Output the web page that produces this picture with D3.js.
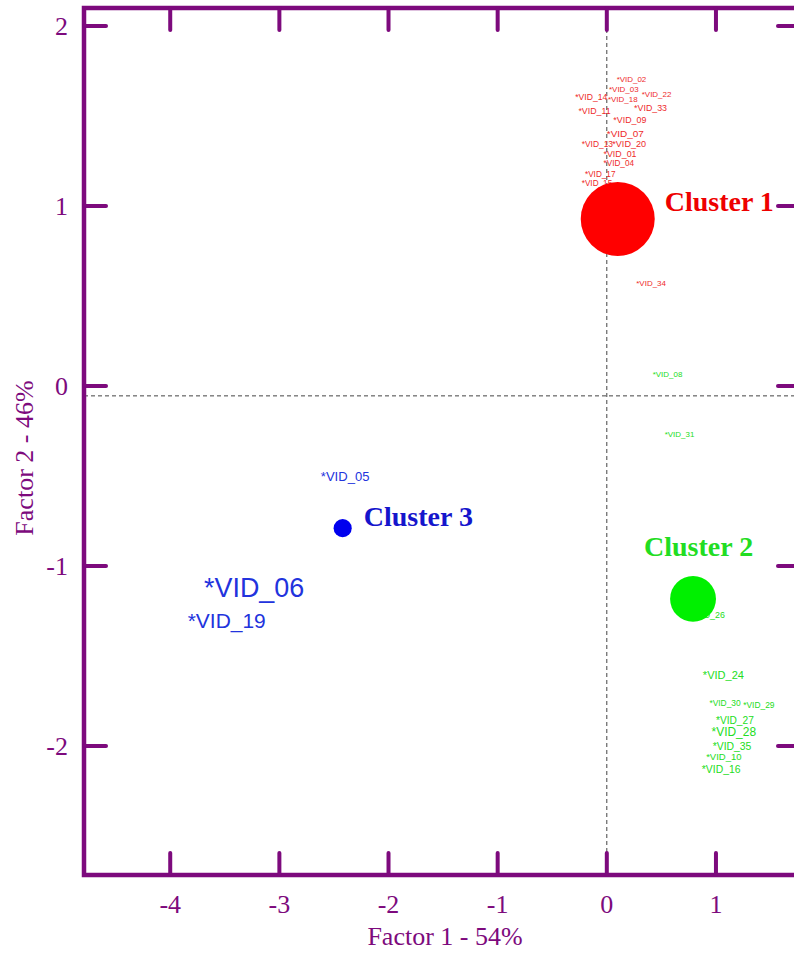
<!DOCTYPE html>
<html>
<head>
<meta charset="utf-8">
<script src="https://cdn.jsdelivr.net/npm/d3@7"></script>
<style>
  html, body { margin: 0; padding: 0; background: #fff; }
  svg { display: block; }
</style>
</head>
<body>
<svg id="chart" width="794" height="953"></svg>
<script>
// Factor map of the observations (factor 1 x factor 2) with their cluster centroids.
const xTicks = [-4, -3, -2, -1, 0, 1];
const yTicks = [-2, -1, 0, 1, 2];
const xTitle = "Factor 1 - 54%";
const yTitle = "Factor 2 - 46%";

// Observation labels, coordinates and quality of representation, per cluster
const obsNames = [
  "*VID_02", "*VID_03", "*VID_22", "*VID_14", "*VID_18", "*VID_11", "*VID_33", "*VID_09",
  "*VID_07", "*VID_13", "*VID_20", "*VID_01", "*VID_04", "*VID_17", "*VID_15", "*VID_34",
  "*VID_08", "*VID_31", "*VID_26", "*VID_24", "*VID_30", "*VID_29", "*VID_27", "*VID_28",
  "*VID_35", "*VID_10", "*VID_16",
  "*VID_05", "*VID_06", "*VID_19"
];
const obsF1 = [
  0.09, 0.02, 0.32, -0.29, 0.01, -0.26, 0.25, 0.06,
  0.00, -0.23, 0.05, -0.03, -0.03, -0.20, -0.23, 0.27,
  0.42, 0.53, 0.78, 0.88, 0.94, 1.25, 1.00, 0.96,
  0.97, 0.91, 0.87,
  -2.62, -3.69, -3.84
];
const obsF2 = [
  1.706, 1.65, 1.62, 1.605, 1.595, 1.53, 1.545, 1.48,
  1.405, 1.345, 1.345, 1.29, 1.24, 1.18, 1.13, 0.57,
  0.067, -0.27, -1.27, -1.605, -1.76, -1.77, -1.855, -1.92,
  -2.00, -2.06, -2.13,
  -0.50, -1.117, -1.30
];
const obsQuality = [
  0.09, 0.09, 0.09, 0.12, 0.09, 0.13, 0.13, 0.13,
  0.18, 0.11, 0.14, 0.13, 0.10, 0.10, 0.10, 0.09,
  0.09, 0.09, 0.13, 0.23, 0.11, 0.11, 0.19, 0.27,
  0.20, 0.16, 0.20,
  0.32, 0.95, 0.68
];
const obsCluster = [
  1, 1, 1, 1, 1, 1, 1, 1, 1, 1, 1, 1, 1, 1, 1, 1,
  2, 2, 2, 2, 2, 2, 2, 2, 2, 2, 2,
  3, 3, 3
];

// Cluster centroids and relative weights
const clusterNames = ["Cluster 1", "Cluster 2", "Cluster 3"];
const clusterF1 = [0.10, 0.79, -2.42];
const clusterF2 = [0.928, -1.183, -0.79];
const clusterWeight = [1.0, 0.62, 0.245];

// Mean of the second factor, drawn as the horizontal reference line
const refF2 = -0.055;

const purple = "#7d0a7d";
const clusterColor = { 1: "#ff0000", 2: "#00f000", 3: "#0000ee" };
const labelColor = { 1: "#ee2a2a", 2: "#22dd22", 3: "#2233dd" };
const titleColor = { 1: "#ee0000", 2: "#22dd22", 3: "#1515cc" };

const svg = d3.select("#chart");
const frame = { left: 84, right: 800, top: 8, bottom: 875 };

const x = d3.scaleLinear().domain([-4.79, 1.77]).range([frame.left, frame.right]);
const y = d3.scaleLinear().domain([-2.717, 2.1]).range([frame.bottom, frame.top]);
const fontScale = d3.scaleLinear().domain([0, 1]).range([6, 28]);
const rScale = d3.scaleLinear().domain([0, 1]).range([0, 37]);

// Reference dashed lines
svg.append("line")
  .attr("x1", x(0)).attr("x2", x(0))
  .attr("y1", frame.top).attr("y2", frame.bottom)
  .attr("stroke", "#444").attr("stroke-width", 1).attr("stroke-dasharray", "4,3");
svg.append("line")
  .attr("x1", frame.left).attr("x2", frame.right)
  .attr("y1", y(refF2)).attr("y2", y(refF2))
  .attr("stroke", "#444").attr("stroke-width", 1).attr("stroke-dasharray", "4,3");

// Observation labels
const obs = obsNames.map((n, i) => ({ name: n, f1: obsF1[i], f2: obsF2[i], q: obsQuality[i], c: obsCluster[i] }));
svg.append("g").selectAll("text").data(obs).join("text")
  .attr("x", d => x(d.f1))
  .attr("y", d => y(d.f2))
  .attr("dy", "0.36em")
  .attr("font-family", "'Liberation Sans', Arial, sans-serif")
  .attr("font-size", d => fontScale(d.q))
  .attr("fill", d => labelColor[d.c])
  .text(d => d.name);

// Cluster centroids
const clusters = clusterNames.map((n, i) => ({ name: n, f1: clusterF1[i], f2: clusterF2[i], w: clusterWeight[i], c: i + 1 }));
svg.append("g").selectAll("circle").data(clusters).join("circle")
  .attr("cx", d => x(d.f1))
  .attr("cy", d => y(d.f2))
  .attr("r", d => rScale(d.w))
  .attr("fill", d => clusterColor[d.c]);

// Cluster titles placed beside each centroid
const titleOffset = {
  1: [10, -8],
  2: [-49, -43],
  3: [12, -2]
};
svg.append("g").selectAll("text").data(clusters).join("text")
  .attr("x", d => {
    const r = rScale(d.w);
    return d.c === 2 ? x(d.f1) + titleOffset[2][0] : x(d.f1) + r + titleOffset[d.c][0];
  })
  .attr("y", d => y(d.f2) + titleOffset[d.c][1])
  .attr("font-family", "'Liberation Serif', 'Times New Roman', serif")
  .attr("font-weight", "bold")
  .attr("font-size", 28)
  .attr("fill", d => titleColor[d.c])
  .text(d => d.name);

// Frame and ticks on all four sides, pointing inward
const tickLen = 22;
const axisG = svg.append("g").attr("stroke", purple).attr("stroke-width", 4).attr("stroke-linecap", "round");
axisG.append("rect")
  .attr("x", frame.left).attr("y", frame.top)
  .attr("width", frame.right - frame.left).attr("height", frame.bottom - frame.top)
  .attr("fill", "none").attr("stroke-linecap", "butt").attr("stroke-width", 4.5);
xTicks.forEach(t => {
  axisG.append("line").attr("x1", x(t)).attr("x2", x(t)).attr("y1", frame.bottom).attr("y2", frame.bottom - tickLen);
  axisG.append("line").attr("x1", x(t)).attr("x2", x(t)).attr("y1", frame.top).attr("y2", frame.top + tickLen);
});
yTicks.forEach(t => {
  axisG.append("line").attr("x1", frame.left).attr("x2", frame.left + tickLen).attr("y1", y(t)).attr("y2", y(t));
  axisG.append("line").attr("x1", frame.right).attr("x2", frame.right - tickLen).attr("y1", y(t)).attr("y2", y(t));
});

// Tick labels
const serif = "'Liberation Serif', 'Times New Roman', serif";
svg.append("g").selectAll("text").data(xTicks).join("text")
  .attr("x", d => x(d))
  .attr("y", 913)
  .attr("text-anchor", "middle")
  .attr("font-family", serif).attr("font-size", 26).attr("fill", purple)
  .text(d => d);
svg.append("g").selectAll("text").data(yTicks).join("text")
  .attr("x", 68)
  .attr("y", d => y(d))
  .attr("dy", "0.35em")
  .attr("text-anchor", "end")
  .attr("font-family", serif).attr("font-size", 26).attr("fill", purple)
  .text(d => d);

// Axis titles
svg.append("text")
  .attr("x", 445).attr("y", 945)
  .attr("text-anchor", "middle")
  .attr("font-family", serif).attr("font-size", 26).attr("fill", purple)
  .text(xTitle);
svg.append("text")
  .attr("transform", "translate(33,458) rotate(-90)")
  .attr("text-anchor", "middle")
  .attr("font-family", serif).attr("font-size", 26).attr("fill", purple)
  .text(yTitle);
</script>
</body>
</html>
